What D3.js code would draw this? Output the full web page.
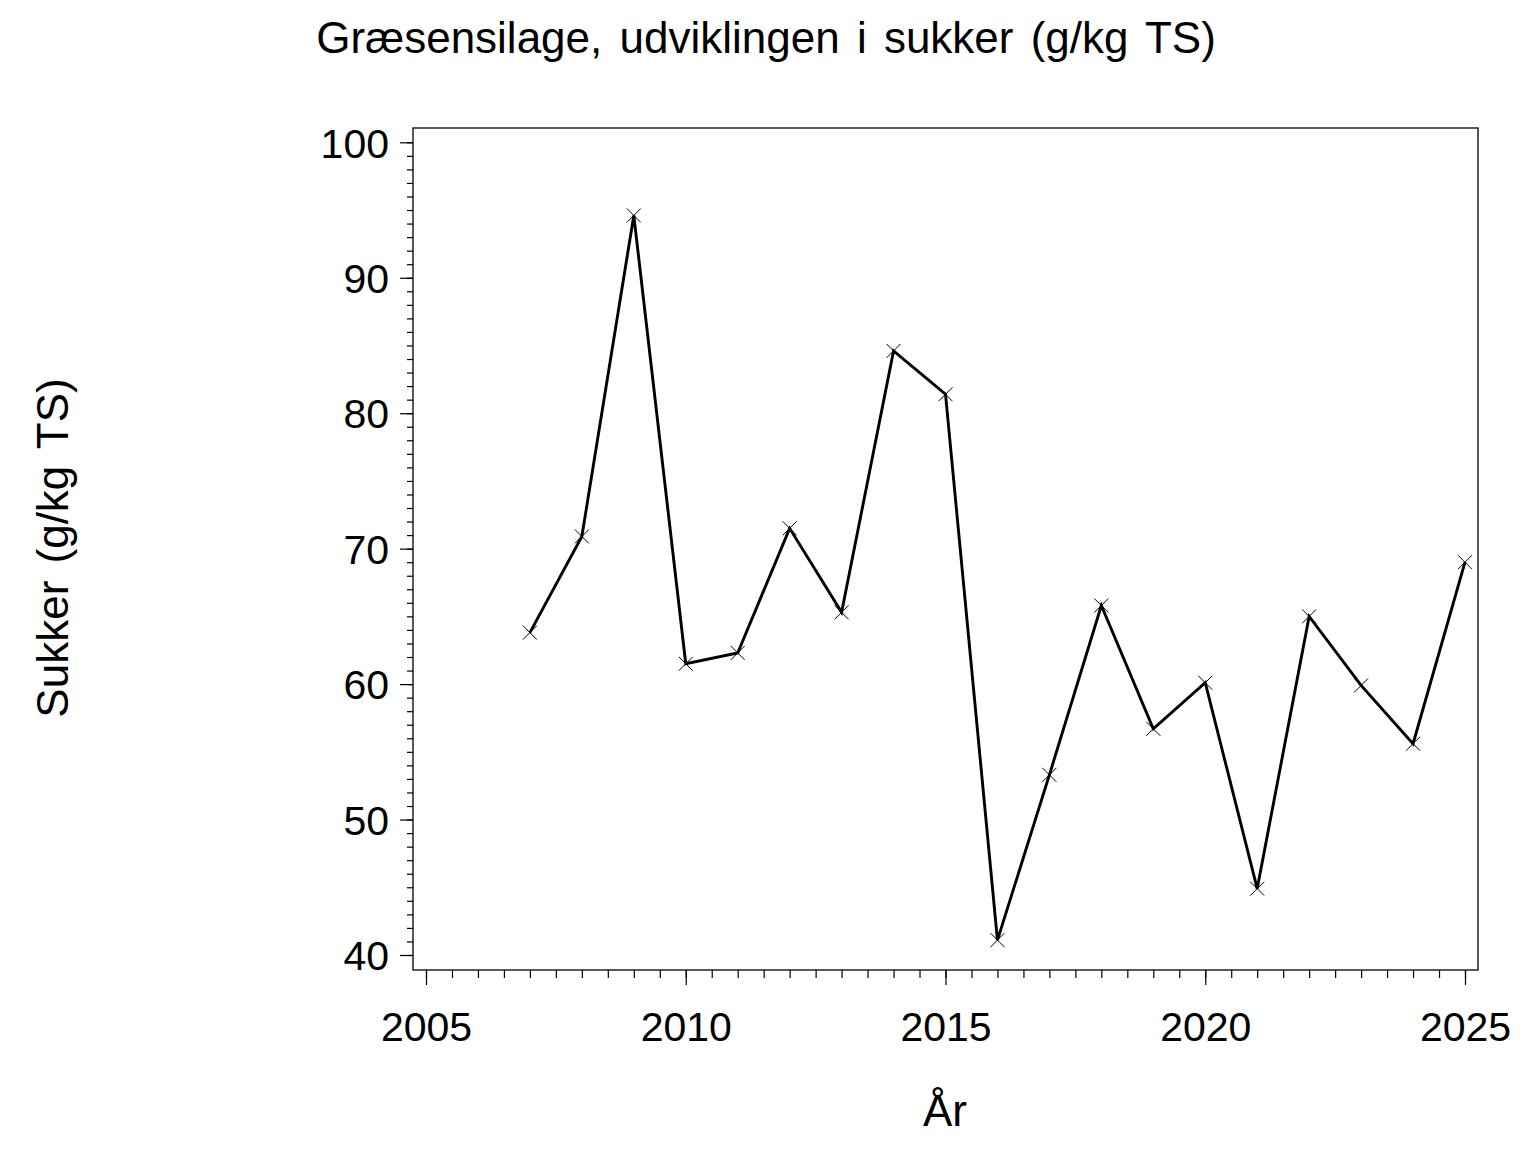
<!DOCTYPE html>
<html>
<head>
<meta charset="utf-8">
<script src="https://cdn.jsdelivr.net/npm/d3@7"></script>
<style>
html,body{margin:0;padding:0;background:#fff;}
svg{display:block;}
text{font-family:"Liberation Sans",Arial,Helvetica,sans-serif;fill:#000;}
</style>
</head>
<body>
<svg id="chart" width="1536" height="1152"></svg>
<script>
const years = [2007,2008,2009,2010,2011,2012,2013,2014,2015,2016,2017,2018,2019,2020,2021,2022,2023,2024,2025];
const sukker = [63.8,70.9,94.6,61.5,62.3,71.5,65.3,84.6,81.4,41.1,53.3,65.8,56.7,60.1,44.9,65.0,59.9,55.6,69.0];
const xTicks = [2005,2010,2015,2020,2025];
const yTicks = [40,50,60,70,80,90,100];
const titleText = "Græsensilage, udviklingen i sukker (g/kg TS)";
const yLabel = "Sukker (g/kg TS)";
const xLabel = "År";

const svg = d3.select("#chart");
const frame = {left:413, right:1478, top:128, bottom:970};

const x = d3.scaleLinear().domain([2005,2025]).range([426,1465]);
const y = d3.scaleLinear().domain([40,100]).range([955,142.3]);

// frame
svg.append("rect")
  .attr("x",frame.left).attr("y",frame.top)
  .attr("width",frame.right-frame.left).attr("height",frame.bottom-frame.top)
  .attr("fill","none").attr("stroke","#000").attr("stroke-width",1.3);

// y axis
const yMinor = d3.range(40,100.01,1);
const yAxisG = svg.append("g").attr("transform",`translate(${frame.left},0)`);
yAxisG.call(d3.axisLeft(y).tickValues(yMinor).tickSize(6).tickFormat(""))
  .call(g=>g.select(".domain").remove());
yAxisG.append("g").call(d3.axisLeft(y).tickValues(yTicks).tickSize(13).tickPadding(11).tickFormat(d3.format("d")))
  .call(g=>g.select(".domain").remove())
  .call(g=>g.selectAll("text").attr("font-size",41).attr("font-family","Liberation Sans, Arial, sans-serif").attr("dy","0.36em"));
yAxisG.selectAll("line").attr("stroke","#000").attr("stroke-width",1.2);

// x axis
const xMinor = d3.range(2005,2025.01,0.5);
const xAxisG = svg.append("g").attr("transform",`translate(0,${frame.bottom})`);
xAxisG.call(d3.axisBottom(x).tickValues(xMinor).tickSize(8).tickFormat(""))
  .call(g=>g.select(".domain").remove());
xAxisG.append("g").call(d3.axisBottom(x).tickValues(xTicks).tickSize(15).tickPadding(27).tickFormat(d3.format("d")))
  .call(g=>g.select(".domain").remove())
  .call(g=>g.selectAll("text").attr("font-size",41).attr("font-family","Liberation Sans, Arial, sans-serif"));
xAxisG.selectAll("line").attr("stroke","#000").attr("stroke-width",1.2);

// line
const data = years.map((yr,i)=>({yr, v:sukker[i]}));
svg.append("path").datum(data)
  .attr("fill","none").attr("stroke","#000").attr("stroke-width",2.9)
  .attr("stroke-linejoin","miter")
  .attr("d", d3.line().x(d=>x(d.yr)).y(d=>y(d.v)));

// markers
const s = 7;
svg.append("g").selectAll("path.mk").data(data).join("path")
  .attr("class","mk")
  .attr("d", d=>{const cx=x(d.yr), cy=y(d.v);
    return `M${cx-s},${cy-s}L${cx+s},${cy+s}M${cx-s},${cy+s}L${cx+s},${cy-s}`;})
  .attr("stroke","#000").attr("stroke-width",1).attr("fill","none");

// title
svg.append("text").attr("x",766).attr("y",53).attr("text-anchor","middle")
  .attr("font-size",44).attr("word-spacing",5).text(titleText);

// y label
svg.append("text").attr("transform","translate(68,548) rotate(-90)")
  .attr("text-anchor","middle").attr("font-size",44).attr("word-spacing",5).text(yLabel);

// x label
svg.append("text").attr("x",945).attr("y",1126).attr("text-anchor","middle")
  .attr("font-size",44).text(xLabel);
</script>
</body>
</html>
